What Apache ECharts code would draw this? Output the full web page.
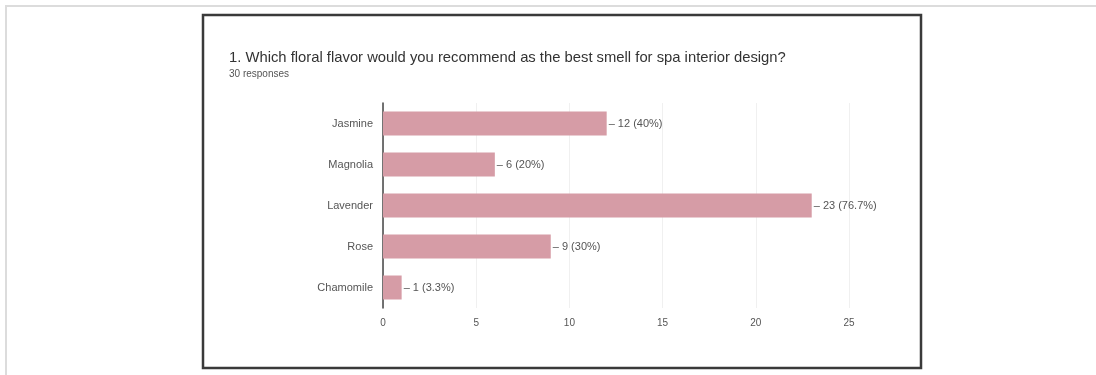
<!DOCTYPE html>
<html>
<head>
<meta charset="utf-8">
<script src="https://cdn.jsdelivr.net/npm/echarts@6/dist/echarts.min.js"></script>
<style>
html,body{margin:0;padding:0;background:#fff;}
#c{width:1096px;height:375px;}
</style>
</head>
<body>
<div id="c"></div>
<script>
var titleText = '1. Which floral flavor would you recommend as the best smell for spa interior design?';
var subtitleText = '30 responses';
var categories = ['Jasmine', 'Magnolia', 'Lavender', 'Rose', 'Chamomile'];
var counts = [12, 6, 23, 9, 1];
var percentLabels = ['40%', '20%', '76.7%', '30%', '3.3%'];
var xTicks = [0, 5, 10, 15, 20, 25];

var chart = echarts.init(document.getElementById('c'), null, {renderer: 'canvas'});
var option = {
  animation: false,
  backgroundColor: '#ffffff',
  graphic: [
    {type: 'rect', shape: {x: 6, y: 6, width: 1100, height: 380}, style: {fill: 'none', stroke: '#dcdcdc', lineWidth: 2}},
    {type: 'rect', shape: {x: 203, y: 15, width: 718, height: 353}, style: {fill: '#fff', stroke: '#3a3a3a', lineWidth: 2.5}},
    {type: 'text', left: 229, top: 50, style: {text: titleText, font: '14.8px "Liberation Sans", Arial, sans-serif', fill: '#333'}},
    {type: 'text', left: 229, top: 69, style: {text: subtitleText, font: '10px "Liberation Sans", Arial, sans-serif', fill: '#555'}}
  ],
  grid: {left: 383, right: 247, top: 103, height: 205, containLabel: false},
  xAxis: {
    type: 'value', min: 0, max: 25, interval: 5,
    axisLine: {show: false}, axisTick: {show: false},
    axisLabel: {color: '#555', fontSize: 10, margin: 10, fontFamily: 'Liberation Sans, Arial, sans-serif',
      formatter: function (v) { return xTicks.indexOf(v) >= 0 ? String(v) : ''; }},
    splitLine: {show: true, lineStyle: {color: '#f0f0f0', width: 1}}
  },
  yAxis: {
    type: 'category', data: categories, inverse: true,
    axisLine: {show: true, lineStyle: {color: '#444', width: 1.5}},
    axisTick: {show: false},
    axisLabel: {color: '#555', fontSize: 11, margin: 10, fontFamily: 'Liberation Sans, Arial, sans-serif'}
  },
  series: [{
    type: 'bar',
    data: counts,
    barWidth: 24,
    itemStyle: {color: '#d69ca6'},
    label: {
      show: true, position: 'right', distance: 2, color: '#555', fontSize: 11,
      fontFamily: 'Liberation Sans, Arial, sans-serif',
      formatter: function (p) { return '\u2013 ' + p.value + ' (' + percentLabels[p.dataIndex] + ')'; }
    }
  }]
};
chart.setOption(option);
</script>
</body>
</html>
